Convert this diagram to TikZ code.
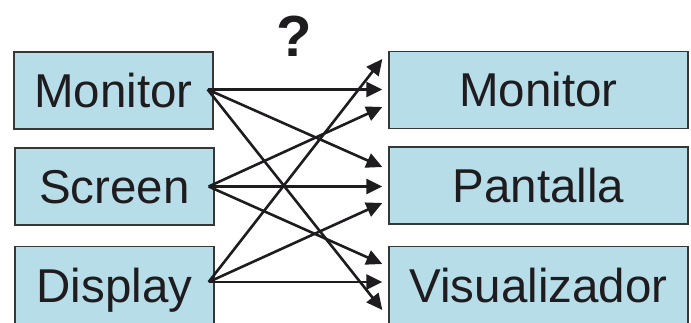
\documentclass[tikz,border=0pt]{standalone}
\usepackage{fontspec}
\setmainfont{Liberation Sans}
\usepackage{xcolor}
\usepackage{tikz}
\usetikzlibrary{arrows.meta}

\definecolor{boxblue}{RGB}{183,221,232}
\definecolor{boxline}{RGB}{55,55,55}
\definecolor{linkgray}{RGB}{30,28,30}

\tikzset{
	word/.style={draw=boxline, line width=1.3pt, fill=boxblue, minimum height=77pt,
		inner sep=0pt, text height=34pt, text depth=0pt, text=linkgray,
		font=\fontsize{47.5}{52}\selectfont},
	lword/.style={word, minimum width=199pt},
	rword/.style={word, minimum width=299pt},
	link/.style={draw=linkgray, line width=2.6pt, -{Triangle[length=16pt,width=15pt]}}
}

\begin{document}
\begin{tikzpicture}[x=1pt,y=1pt]
		\useasboundingbox (0,0) rectangle (691,322);
		% Terms on the left
		\node[lword] (lmon) at (113.5,231.5) {Monitor};
		\node[lword] (lscr) at (114.5,135.5) {Screen};
		\node[lword] (ldis) at (114.5,37) {Display};
		% Terms on the right
		\node[rword] (rmon) at (538.5,232) {Monitor};
		\node[rword] (rpan) at (538.5,136.5) {Pantalla};
		\node[rword] (rvis) at (538.5,37) {Visualizador};
		% Question mark
		\node[font=\bfseries\fontsize{58}{60}\selectfont, inner sep=0pt, text=linkgray] (ask) at (294,286) {?};
		% Start points, just inside the left boxes
		\coordinate (smon) at ([xshift=-6pt,yshift=1pt]lmon.east);
		\coordinate (sscr) at ([xshift=-6pt]lscr.east);
		\coordinate (sdis) at ([xshift=-6pt,yshift=3pt]ldis.east);
		% Arrow tips, just before the right boxes
		\coordinate (tmon1) at ([xshift=-6pt,yshift=31pt]rmon.west);
		\coordinate (tmon2) at ([xshift=-6pt,yshift=0.5pt]rmon.west);
		\coordinate (tmon3) at ([xshift=-6pt,yshift=-17pt]rmon.west);
		\coordinate (tpan1) at ([xshift=-6pt,yshift=18.5pt]rpan.west);
		\coordinate (tpan2) at ([xshift=-6pt,yshift=-1pt]rpan.west);
		\coordinate (tpan3) at ([xshift=-6pt,yshift=-17.5pt]rpan.west);
		\coordinate (tvis1) at ([xshift=-6pt,yshift=21pt]rvis.west);
		\coordinate (tvis2) at ([xshift=-6pt,yshift=3pt]rvis.west);
		\coordinate (tvis3) at ([xshift=-6pt,yshift=-25pt]rvis.west);
		% Every term to every term
		\draw[link] (smon) -- (tmon2);
		\draw[link] (smon) -- (tpan1);
		\draw[link] (smon) -- (tvis3);
		\draw[link] (sscr) -- (tmon3);
		\draw[link] (sscr) -- (tpan2);
		\draw[link] (sscr) -- (tvis1);
		\draw[link] (sdis) -- (tmon1);
		\draw[link] (sdis) -- (tpan3);
		\draw[link] (sdis) -- (tvis2);
\end{tikzpicture}
\end{document}
